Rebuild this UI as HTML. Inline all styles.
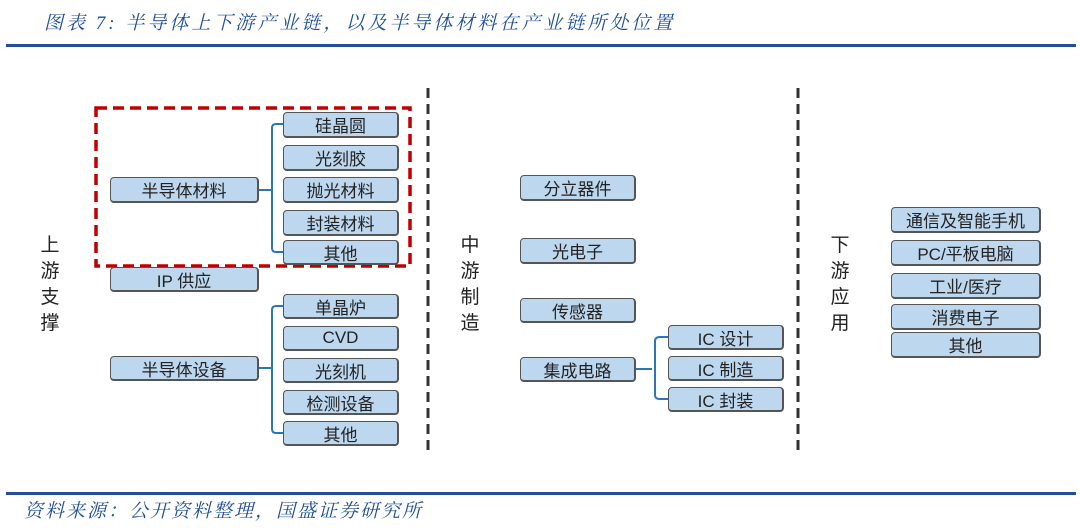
<!DOCTYPE html>
<html><head><meta charset="utf-8"><style>
body{margin:0;width:1080px;height:528px;background:#fff;position:relative;overflow:hidden;font-family:"Liberation Sans","Noto Sans CJK SC",sans-serif}
.t{position:absolute;color:#1f4e9a;font-style:italic;font-family:"Liberation Serif","Noto Serif CJK SC",serif;font-size:19px;letter-spacing:3px;white-space:nowrap}
.b{position:absolute;box-sizing:border-box;background:#bdd7ee;border:1.5px solid #555;border-right-width:2.5px;border-bottom-width:2.5px;border-radius:4px;display:flex;align-items:center;justify-content:center;font-size:17px;color:#222}
.v{position:absolute;width:22px;font-size:19px;line-height:26px;color:#222;text-align:center}
.r{position:absolute;height:3px;background:#1f4e9a;left:6px;width:1070px}
</style></head><body>
<div class="t" style="left:44px;top:8px">图表 7:  半导体上下游产业链，以及半导体材料在产业链所处位置</div>
<div class="r" style="top:44px"></div>
<div class="r" style="top:492px"></div>
<div class="t" style="left:24px;top:496px;letter-spacing:2px">资料来源：公开资料整理，国盛证券研究所</div>
<svg style="position:absolute;left:0;top:0" width="1080" height="528">
<g stroke="#333" stroke-width="3" stroke-dasharray="10,6"><line x1="428" y1="88" x2="428" y2="456"/><line x1="798" y1="88" x2="798" y2="456"/></g>
<rect x="96" y="108" width="314" height="158" fill="none" stroke="#c00000" stroke-width="3.5" stroke-dasharray="11,6"/>
<g fill="none" stroke="#2e75b6" stroke-width="2">
<path d="M258 190 H272 M283 124 H276 Q272 124 272 128 V248 Q272 252 276 252 H283"/>
<path d="M258 368 H272 M283 306 H276 Q272 306 272 310 V429 Q272 433 276 433 H283"/>
<path d="M635 369 H652 M668 337 H660 Q655 337 655 341 V395 Q655 399 660 399 H668"/>
</g></svg>
<div class="b" style="left:283px;top:112px;width:116px;height:26px">硅晶圆</div>
<div class="b" style="left:283px;top:145px;width:116px;height:26px">光刻胶</div>
<div class="b" style="left:283px;top:177px;width:116px;height:26px">抛光材料</div>
<div class="b" style="left:283px;top:210px;width:116px;height:26px">封装材料</div>
<div class="b" style="left:283px;top:240px;width:116px;height:25px">其他</div>
<div class="b" style="left:110px;top:177px;width:149px;height:26px">半导体材料</div>
<div class="b" style="left:110px;top:267px;width:149px;height:25px">IP 供应</div>
<div class="b" style="left:283px;top:294px;width:116px;height:25px">单晶炉</div>
<div class="b" style="left:283px;top:326px;width:116px;height:25px">CVD</div>
<div class="b" style="left:283px;top:358px;width:116px;height:25px">光刻机</div>
<div class="b" style="left:283px;top:390px;width:116px;height:25px">检测设备</div>
<div class="b" style="left:283px;top:421px;width:116px;height:25px">其他</div>
<div class="b" style="left:110px;top:356px;width:149px;height:25px">半导体设备</div>
<div class="b" style="left:520px;top:175px;width:116px;height:26px">分立器件</div>
<div class="b" style="left:520px;top:238px;width:116px;height:26px">光电子</div>
<div class="b" style="left:520px;top:298px;width:116px;height:25px">传感器</div>
<div class="b" style="left:520px;top:357px;width:116px;height:25px">集成电路</div>
<div class="b" style="left:668px;top:325px;width:116px;height:25px">IC 设计</div>
<div class="b" style="left:668px;top:356px;width:116px;height:25px">IC 制造</div>
<div class="b" style="left:668px;top:387px;width:116px;height:25px">IC 封装</div>
<div class="b" style="left:891px;top:207px;width:150px;height:26px">通信及智能手机</div>
<div class="b" style="left:891px;top:240px;width:150px;height:26px">PC/平板电脑</div>
<div class="b" style="left:891px;top:273px;width:150px;height:26px">工业/医疗</div>
<div class="b" style="left:891px;top:304px;width:150px;height:26px">消费电子</div>
<div class="b" style="left:891px;top:332px;width:150px;height:26px">其他</div>
<div class="v" style="left:39px;top:233px">上<br>游<br>支<br>撑</div>
<div class="v" style="left:459px;top:233px">中<br>游<br>制<br>造</div>
<div class="v" style="left:829px;top:233px">下<br>游<br>应<br>用</div>
</body></html>
